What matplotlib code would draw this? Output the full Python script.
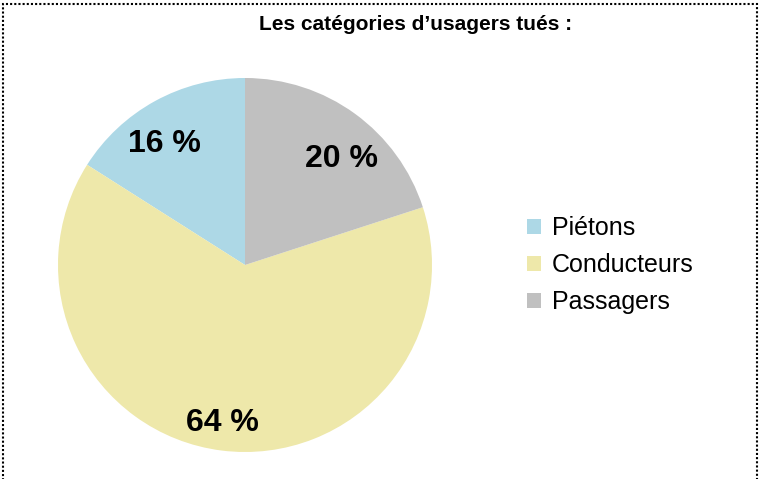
import matplotlib.pyplot as plt
from matplotlib.patches import Rectangle

plt.rcParams['font.family'] = ['Liberation Sans', 'DejaVu Sans']

categories = ['Piétons', 'Conducteurs', 'Passagers']
shares = [16, 64, 20]
colors = ['#add8e6', '#eee8aa', '#c0c0c0']
title = 'Les catégories d\u2019usagers tués :'

W, H = 759, 479
fig = plt.figure(figsize=(W / 100, H / 100), dpi=100)

# pie area: centre (245, 265), radius 187 px
r = 187
cx, cy = 245, 265
ax = fig.add_axes([(cx - r) / W, 1 - (cy + r) / H, 2 * r / W, 2 * r / H])
wedges, _ = ax.pie(shares, colors=colors, startangle=90, counterclock=True,
                   radius=1.0, wedgeprops=dict(linewidth=0))
ax.set_xlim(-1, 1)
ax.set_ylim(-1, 1)
ax.set_aspect('equal')
ax.axis('off')

# percentage labels placed in pixel positions relative to the pie
label_pos = [(164, 144), (222, 423), (341, 159)]
for (px, py), v in zip(label_pos, shares):
    ax.text((px - cx) / r, -(py - cy) / r, f'{v} %', ha='center', va='center',
            fontsize=23, fontweight='bold', color='black')

fig.text(416 / W, 1 - 24 / H, title, ha='center', va='center',
         fontsize=15, fontweight='bold')

leg = fig.legend(wedges, categories, loc='center left',
                 bbox_to_anchor=(527 / W, 1 - 265 / H), frameon=False,
                 fontsize=18, handlelength=0.56, handleheight=0.56,
                 handletextpad=0.44, labelspacing=0.52,
                 borderpad=0, borderaxespad=0)

# dotted frame around the whole chart
fig.patches.append(Rectangle((2.5 / W, -0.01), 754 / W, 1 - 3.5 / H + 0.01,
                             transform=fig.transFigure, fill=False,
                             edgecolor='black', linewidth=1.5,
                             linestyle=(0, (1, 1))))

fig.savefig('out.png', dpi=100)
